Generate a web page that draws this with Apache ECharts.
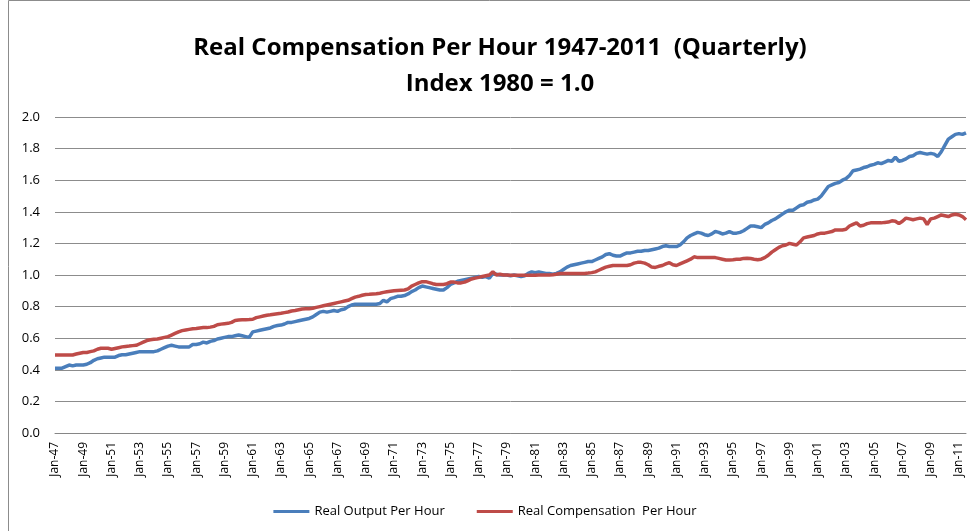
<!DOCTYPE html>
<html>
<head>
<meta charset="utf-8">
<script src="https://cdn.jsdelivr.net/npm/echarts@6/dist/echarts.min.js"></script>
<style>
html, body { margin: 0; padding: 0; background: #fff; }
#chart { width: 970px; height: 531px; }
</style>
</head>
<body>
<div id="chart"></div>
<script>
// quarterly, 1947Q1 .. 2011Q3
var startYear = 1947, endYear = 2011;
var months = ['Jan', 'Apr', 'Jul', 'Oct'];

var output_per_hour = [
    0.41, 0.41, 0.41, 0.42,      // 1947
    0.43, 0.425, 0.43, 0.43,
    0.43, 0.435, 0.445, 0.46,
    0.47, 0.475, 0.48, 0.48,     // 1950
    0.48, 0.48, 0.49, 0.495,
    0.495, 0.50, 0.505, 0.51,
    0.515, 0.515, 0.515, 0.515,
    0.515, 0.52, 0.53, 0.54,
    0.55, 0.555, 0.55, 0.545,    // 1955
    0.545, 0.545, 0.545, 0.56,
    0.56, 0.565, 0.575, 0.57,
    0.58, 0.585, 0.595, 0.60,
    0.605, 0.61, 0.61, 0.615,
    0.62, 0.615, 0.61, 0.605,    // 1960
    0.64, 0.645, 0.65, 0.655,
    0.66, 0.665, 0.675, 0.68,
    0.683, 0.69, 0.70, 0.70,
    0.705, 0.71, 0.715, 0.72,
    0.725, 0.735, 0.75, 0.765,   // 1965
    0.77, 0.765, 0.77, 0.775,
    0.77, 0.78, 0.785, 0.80,
    0.81, 0.815, 0.815, 0.815,
    0.815, 0.815, 0.815, 0.815,
    0.82, 0.84, 0.83, 0.85,      // 1970
    0.857, 0.865, 0.865, 0.87,
    0.88, 0.895, 0.905, 0.92,
    0.93, 0.925, 0.92, 0.915,
    0.91, 0.905, 0.905, 0.92,
    0.94, 0.95, 0.96, 0.965,     // 1975
    0.97, 0.975, 0.98, 0.985,
    0.99, 0.985, 0.99, 0.98,
    1.01, 1.005, 1.0, 1.0,
    1.0, 0.995, 1.0, 0.995,
    0.99, 0.995, 1.01, 1.02,     // 1980
    1.015, 1.02, 1.015, 1.01,
    1.01, 1.005, 1.01, 1.02,
    1.035, 1.05, 1.06, 1.065,
    1.07, 1.075, 1.08, 1.085,
    1.085, 1.095, 1.105, 1.115,  // 1985
    1.13, 1.135, 1.125, 1.12,
    1.12, 1.13, 1.14, 1.14,
    1.145, 1.15, 1.15, 1.155,
    1.155, 1.16, 1.165, 1.17,
    1.18, 1.185, 1.18, 1.18,     // 1990
    1.18, 1.19, 1.21, 1.235,
    1.25, 1.26, 1.27, 1.265,
    1.255, 1.25, 1.26, 1.275,
    1.27, 1.26, 1.265, 1.275,
    1.265, 1.265, 1.27, 1.28,    // 1995
    1.295, 1.31, 1.31, 1.305,
    1.30, 1.32, 1.33, 1.345,
    1.355, 1.37, 1.385, 1.40,
    1.41, 1.41, 1.425, 1.44,
    1.445, 1.46, 1.465, 1.475,   // 2000
    1.48, 1.50, 1.53, 1.56,
    1.57, 1.58, 1.585, 1.60,
    1.61, 1.63, 1.66, 1.665,
    1.67, 1.68, 1.685, 1.695,
    1.70, 1.71, 1.705, 1.715,    // 2005
    1.725, 1.72, 1.745, 1.72,
    1.725, 1.735, 1.75, 1.755,
    1.77, 1.775, 1.77, 1.765,
    1.77, 1.765, 1.75, 1.78,
    1.82, 1.86, 1.875, 1.89,     // 2010
    1.895, 1.89, 1.9
];

var compensation_per_hour = [
    0.494, 0.494, 0.494, 0.494,  // 1947
    0.494, 0.494, 0.50, 0.505,
    0.51, 0.51, 0.515, 0.52,
    0.53, 0.536, 0.536, 0.536,   // 1950
    0.53, 0.535, 0.54, 0.545,
    0.548, 0.55, 0.553, 0.555,
    0.565, 0.575, 0.585, 0.59,
    0.593, 0.595, 0.60, 0.605,
    0.61, 0.62, 0.63, 0.64,      // 1955
    0.648, 0.652, 0.656, 0.66,
    0.662, 0.665, 0.667, 0.667,
    0.67, 0.675, 0.685, 0.689,
    0.692, 0.694, 0.70, 0.712,
    0.715, 0.716, 0.717, 0.718,  // 1960
    0.72, 0.73, 0.735, 0.74,
    0.745, 0.748, 0.752, 0.755,
    0.758, 0.762, 0.766, 0.772,
    0.775, 0.78, 0.785, 0.787,
    0.787, 0.79, 0.795, 0.80,    // 1965
    0.805, 0.81, 0.815, 0.82,
    0.825, 0.83, 0.835, 0.84,
    0.85, 0.86, 0.865, 0.872,
    0.877, 0.878, 0.88, 0.882,
    0.885, 0.89, 0.894, 0.897,   // 1970
    0.90, 0.902, 0.904, 0.905,
    0.912, 0.93, 0.94, 0.95,
    0.958, 0.958, 0.952, 0.945,
    0.94, 0.94, 0.94, 0.945,
    0.955, 0.955, 0.95, 0.95,    // 1975
    0.955, 0.965, 0.975, 0.98,
    0.985, 0.99, 0.995, 1.0,
    1.02, 1.0, 1.005, 1.0,
    1.0, 0.998, 0.998, 0.998,
    0.998, 0.998, 0.998, 0.998,  // 1980
    0.998, 1.0, 1.0, 1.0,
    1.0, 1.002, 1.005, 1.01,
    1.01, 1.01, 1.01, 1.01,
    1.01, 1.01, 1.01, 1.012,
    1.015, 1.02, 1.03, 1.04,     // 1985
    1.05, 1.055, 1.06, 1.06,
    1.06, 1.06, 1.06, 1.065,
    1.075, 1.08, 1.08, 1.075,
    1.065, 1.05, 1.048, 1.055,
    1.06, 1.07, 1.078, 1.065,    // 1990
    1.06, 1.07, 1.08, 1.09,
    1.10, 1.115, 1.11, 1.11,
    1.11, 1.11, 1.11, 1.11,
    1.105, 1.1, 1.095, 1.095,
    1.097, 1.10, 1.10, 1.105,    // 1995
    1.106, 1.104, 1.10, 1.097,
    1.10, 1.11, 1.125, 1.145,
    1.16, 1.175, 1.185, 1.19,
    1.20, 1.195, 1.19, 1.21,
    1.235, 1.24, 1.245, 1.25,    // 2000
    1.26, 1.265, 1.265, 1.27,
    1.275, 1.285, 1.285, 1.285,
    1.29, 1.31, 1.32, 1.33,
    1.31, 1.315, 1.325, 1.33,
    1.33, 1.33, 1.33, 1.333,     // 2005
    1.335, 1.343, 1.34, 1.325,
    1.34, 1.36, 1.355, 1.35,
    1.355, 1.36, 1.355, 1.32,
    1.355, 1.36, 1.37, 1.38,
    1.375, 1.37, 1.38, 1.385,    // 2010
    1.38, 1.37, 1.35
];

var quarters = [];
for (var y = startYear; y <= endYear; y++) {
    for (var m = 0; m < 4; m++) {
        if (quarters.length < output_per_hour.length)
            quarters.push(months[m] + '-' + String(y).slice(2));
    }
}

var chart = echarts.init(document.getElementById('chart'));

var option = {
    animation: false,
    title: {
        text: 'Real Compensation Per Hour 1947-2011  (Quarterly)\nIndex 1980 = 1.0',
        left: 495,
        textAlign: 'center',
        top: 25,
        textStyle: {
            fontFamily: 'Open Sans',
            fontSize: 24,
            fontWeight: 'bold',
            color: '#000',
            lineHeight: 36
        }
    },
    legend: {
        bottom: 8,
        left: 'center',
        itemWidth: 36,
        itemHeight: 3,
        itemGap: 32,
        icon: 'rect',
        textStyle: { fontFamily: 'Open Sans', fontSize: 13, color: '#000' },
        data: ['Real Output Per Hour', 'Real Compensation  Per Hour']
    },
    grid: {
        left: 55,
        right: 4,
        top: 117,
        bottom: 98
    },
    xAxis: {
        type: 'category',
        boundaryGap: false,
        data: quarters,
        axisLine: { lineStyle: { color: '#868686', width: 1 } },
        axisTick: { show: false },
        axisLabel: {
            interval: 7,
            rotate: 90,
            color: '#000',
            fontFamily: 'Open Sans',
            fontSize: 12,
            margin: 9
        },
        splitLine: { show: false }
    },
    yAxis: {
        type: 'value',
        min: 0,
        max: 2,
        interval: 0.2,
        axisLine: { show: false },
        axisTick: { show: false },
        axisLabel: {
            color: '#000',
            fontFamily: 'Open Sans',
            fontSize: 13,
            margin: 15,
            formatter: function (v) { return v.toFixed(1); }
        },
        splitLine: { lineStyle: { color: '#8c8c8c', width: 1 } }
    },
    series: [
        {
            name: 'Real Output Per Hour',
            type: 'line',
            data: output_per_hour,
            showSymbol: false,
            lineStyle: { color: '#4a7ebb', width: 3.5 },
            itemStyle: { color: '#4a7ebb' }
        },
        {
            name: 'Real Compensation  Per Hour',
            type: 'line',
            data: compensation_per_hour,
            showSymbol: false,
            lineStyle: { color: '#be4b48', width: 3.5 },
            itemStyle: { color: '#be4b48' }
        }
    ],
    graphic: [{
        type: 'rect',
        shape: { x: 8.5, y: 0.5, width: 1000, height: 600 },
        style: { fill: 'none', stroke: '#8c8c8c', lineWidth: 1 },
        silent: true
    }]
};

chart.setOption(option);
</script>
</body>
</html>
